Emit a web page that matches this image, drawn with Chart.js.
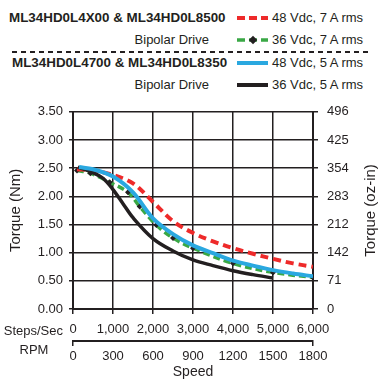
<!DOCTYPE html>
<html>
<head>
<meta charset="utf-8">
<script src="https://cdn.jsdelivr.net/npm/chart.js@4"></script>
<style>
  body { margin: 0; width: 378px; height: 381px; position: relative; overflow: hidden; background: #fff;
         font-family: "Liberation Sans", Arial, sans-serif; color: #231f20; }
  .t { position: absolute; white-space: nowrap; line-height: 16px; }
  .b { font-weight: bold; font-size: 13.4px; }
  .r { font-size: 13px; }
  svg { position: absolute; }
  #wrap { position: absolute; left: 0; top: 95px; width: 378px; height: 286px; }
</style>
</head>
<body>
<div class="t b" style="left:9px; top:10px;">ML34HD0L4X00 &amp; ML34HD0L8500</div>
<div class="t r" style="right:169px; top:32px;">Bipolar Drive</div>
<div class="t b" style="left:12px; top:55px;">ML34HD0L4700 &amp; ML34HD0L8350</div>
<div class="t r" style="right:169px; top:77px;">Bipolar Drive</div>

<svg width="378" height="100" style="left:0; top:0;">
  <line x1="237" y1="18" x2="268" y2="18" stroke="#ee2a2a" stroke-width="4" stroke-dasharray="8,4"/>
  <line x1="237" y1="40" x2="268" y2="40" stroke="#3aa845" stroke-width="3.5" stroke-dasharray="8,4"/>
  <rect x="250" y="37" width="6" height="6" fill="#231f20" transform="rotate(45 253 40)"/>
  <line x1="12" y1="52" x2="372" y2="52" stroke="#231f20" stroke-width="2" stroke-dasharray="5,4"/>
  <line x1="237" y1="63" x2="268" y2="63" stroke="#2aa8e0" stroke-width="4"/>
  <line x1="237" y1="85" x2="268" y2="85" stroke="#231f20" stroke-width="4"/>
</svg>
<div class="t r" style="left:272px; top:10px;">48 Vdc, 7 A rms</div>
<div class="t r" style="left:272px; top:32px;">36 Vdc, 7 A rms</div>
<div class="t r" style="left:272px; top:55px;">48 Vdc, 5 A rms</div>
<div class="t r" style="left:272px; top:77px;">36 Vdc, 5 A rms</div>

<div id="wrap"><canvas id="chart"></canvas></div>

<script>
// speed in steps/sec, torque in Nm
var red_speed = [100, 500, 1000, 1500, 2000, 2500, 3000, 3500, 4000, 4500, 5000, 5500, 6000];
var red_torque = [2.48, 2.46, 2.38, 2.23, 1.90, 1.56, 1.35, 1.20, 1.08, 0.98, 0.89, 0.81, 0.75];

var green_speed = [100, 435, 917, 1375, 1667, 2083, 2500, 3000, 4000, 5000, 6000];
var green_torque = [2.46, 2.41, 2.25, 2.07, 1.82, 1.49, 1.26, 1.08, 0.81, 0.65, 0.56];

var blue_speed = [150, 500, 1000, 1500, 2000, 2500, 3000, 3500, 4000, 4500, 5000, 5500, 6000];
var blue_torque = [2.52, 2.48, 2.35, 2.07, 1.61, 1.33, 1.13, 0.99, 0.86, 0.77, 0.69, 0.63, 0.58];

var black_speed = [120, 500, 750, 1000, 1250, 1500, 2000, 2500, 3000, 3500, 4000, 4500, 5000];
var black_torque = [2.52, 2.42, 2.32, 2.12, 1.87, 1.62, 1.25, 1.03, 0.87, 0.77, 0.68, 0.61, 0.55];

var oz_labels = ['0', '71', '142', '212', '283', '354', '425', '496'];

var ink = '#231f20';
var tickFont = { family: 'Liberation Sans', size: 13 };

function pts(xs, ys) {
    return xs.map(function(x, i) { return { x: x, y: ys[i] }; });
}

var sideLabels = {
    id: 'sideLabels',
    afterDraw: function(chart) {
        var ctx = chart.ctx;
        var area = chart.chartArea;
        ctx.save();
        ctx.fillStyle = ink;
        ctx.font = '13px "Liberation Sans"';
        ctx.textBaseline = 'middle';
        ctx.textAlign = 'right';
        ctx.fillText('Steps/Sec', 63, area.bottom + 22);
        ctx.textAlign = 'center';
        ctx.fillText('RPM', 34, area.bottom + 41);
        ctx.font = '15px "Liberation Sans"';
        var midY = (area.top + area.bottom) / 2;
        ctx.translate(16, midY);
        ctx.rotate(-Math.PI / 2);
        ctx.fillText('Torque (Nm)', 0, 0);
        ctx.restore();
        ctx.save();
        ctx.fillStyle = ink;
        ctx.font = '15px "Liberation Sans"';
        ctx.textAlign = 'center';
        ctx.textBaseline = 'middle';
        ctx.translate(371, midY);
        ctx.rotate(-Math.PI / 2);
        ctx.fillText('Torque (oz-in)', 0, 0);
        ctx.restore();
    }
};

new Chart(document.getElementById('chart'), {
    type: 'line',
    data: {
        datasets: [
            { label: '48 Vdc, 5 A rms', data: pts(blue_speed, blue_torque), borderColor: '#2aa8e0',
              borderWidth: 4, pointRadius: 0, order: 0 },
            { label: '36 Vdc, 5 A rms', data: pts(black_speed, black_torque), borderColor: ink,
              borderWidth: 3.5, pointRadius: 0, order: 1 },
            { label: '48 Vdc, 7 A rms', data: pts(red_speed, red_torque), borderColor: '#ee2a2a',
              borderWidth: 4, borderDash: [8, 5], pointRadius: 0, order: 2 },
            { label: '36 Vdc, 7 A rms', data: pts(green_speed, green_torque), borderColor: '#3aa845',
              borderWidth: 3.5, borderDash: [7, 4], pointStyle: 'rectRot', pointRadius: 3,
              pointBackgroundColor: ink, pointBorderColor: ink, pointBorderWidth: 0, order: 3 }
        ]
    },
    options: {
        responsive: true,
        maintainAspectRatio: false,
        animation: false,
        layout: { padding: { top: 10, left: 0, right: 0, bottom: 0 } },
        elements: { line: { tension: 0.35, fill: false } },
        plugins: { legend: { display: false }, tooltip: { enabled: false } },
        scales: {
            x: {
                type: 'linear', position: 'bottom', weight: 0, min: 0, max: 6000,
                ticks: { stepSize: 1000, color: ink, font: tickFont, padding: 8, maxRotation: 0,
                         callback: function(v) { return v.toLocaleString('en-US'); } },
                grid: { color: ink, lineWidth: 1.5, tickLength: 5 },
                border: { color: ink, width: 2 },
                afterFit: function(s) { s.height = 32; }
            },
            x2: {
                type: 'linear', position: 'bottom', weight: 1, min: 0, max: 1800,
                ticks: { stepSize: 300, color: ink, font: tickFont, padding: 3, maxRotation: 0,
                         callback: function(v) { return String(v); } },
                grid: { drawOnChartArea: false, tickLength: 5, lineWidth: 1.5,
                        color: function(c) { return (c.index === 0 || c.index === 6) ? ink : 'rgba(0,0,0,0)'; } },
                border: { color: ink, width: 2 },
                title: { display: true, text: 'Speed', color: ink, font: { family: 'Liberation Sans', size: 14 },
                         padding: { top: 0, bottom: 0 } },
                afterFit: function(s) { s.height = 40; }
            },
            y: {
                type: 'linear', position: 'left', min: 0, max: 3.5,
                ticks: { stepSize: 0.5, color: ink, font: tickFont, padding: 6,
                         callback: function(v) { return v.toFixed(2); } },
                grid: { color: ink, lineWidth: 1.5, tickLength: 4 },
                border: { color: ink, width: 2 },
                afterFit: function(s) { s.width = 73; }
            },
            y2: {
                type: 'linear', position: 'right', min: 0, max: 3.5,
                ticks: { stepSize: 0.5, color: ink, font: tickFont, padding: 9,
                         callback: function(v, i) { return oz_labels[i]; } },
                grid: { drawOnChartArea: false, color: ink, lineWidth: 1.5, tickLength: 5 },
                border: { color: ink, width: 2 },
                afterFit: function(s) { s.width = 65; }
            }
        }
    },
    plugins: [sideLabels]
});
</script>
</body>
</html>
